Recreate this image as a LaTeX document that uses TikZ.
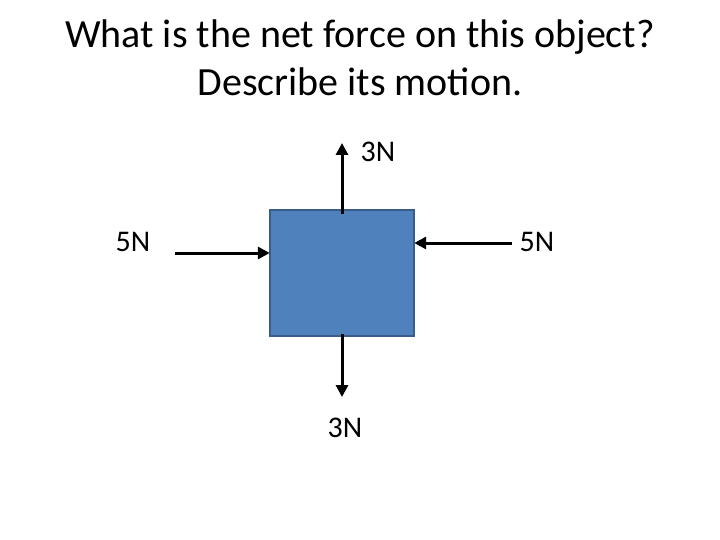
\documentclass[tikz,border=0pt]{standalone}
\usepackage{fontspec}
\setmainfont{Carlito}
\usetikzlibrary{arrows.meta}
\begin{document}
\begin{tikzpicture}[x=1pt,y=-1pt,
  force/.style={line width=3pt,-{Triangle[length=12pt,width=12pt]}},
  lbl/.style={font=\fontsize{30}{34}\selectfont}]
\useasboundingbox (0,0) rectangle (720,540);
\node[align=center,font=\fontsize{40}{48}\selectfont] (title) at (360,58) {What is the net force on this object?\\Describe its motion.};
\node[fill={rgb,255:red,79;green,129;blue,189},minimum width=144pt,minimum height=126pt,inner sep=0] (box) at (342,273) {};
\draw[draw={rgb,255:red,56;green,93;blue,138},line width=2pt] (box.north west) rectangle (box.south east);
\coordinate (t) at (342,143);
\coordinate (b) at (342,397);
\coordinate (l) at (175,253);
\coordinate (r) at (512,243);
\draw[force] ([yshift=-4pt]box.north) -- (t);
\draw[force] ([yshift=2pt]box.south) -- (b);
\draw[force] (l) -- (l -| box.west);
\draw[force] (r) -- (r -| box.east);
\node[lbl] (lt) at (378,152) {3N};
\node[lbl] (lb) at (345,428) {3N};
\node[lbl] (ll) at (133,242) {5N};
\node[lbl] (lr) at (537,242) {5N};
\end{tikzpicture}
\end{document}
